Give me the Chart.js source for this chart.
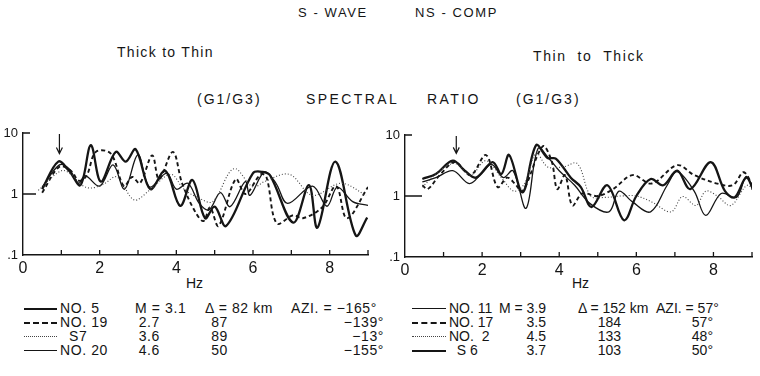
<!DOCTYPE html>
<html>
<head>
<meta charset="utf-8">
<script src="https://cdn.jsdelivr.net/npm/chart.js@4.4.0/dist/chart.umd.min.js"></script>
<style>
    body { margin: 0; background: #fff; width: 760px; height: 376px; overflow: hidden; position: relative;
           font-family: "Liberation Sans", "DejaVu Sans", sans-serif; color: #151515; }
    .t { position: absolute; white-space: pre; line-height: 1; }
    .ln { position: absolute; height: 0; }
    canvas { position: absolute; }
</style>
</head>
<body>
<div class="t" style="left:298px;top:6px;font-size:13px;letter-spacing:1.6px">S - WAVE</div>
<div class="t" style="left:415px;top:6px;font-size:13px;letter-spacing:1.6px">NS - COMP</div>
<div class="t" style="left:117px;top:45px;font-size:14px;letter-spacing:1.3px">Thick to Thin</div>
<div class="t" style="left:533px;top:49px;font-size:14px;letter-spacing:1.6px">Thin  to  Thick</div>
<div class="t" style="left:197px;top:92px;font-size:14px;letter-spacing:2px">(G1/G3)</div>
<div class="t" style="left:306px;top:92px;font-size:14px;letter-spacing:2.4px">SPECTRAL</div>
<div class="t" style="left:427px;top:92px;font-size:14px;letter-spacing:2.4px">RATIO</div>
<div class="t" style="left:516px;top:92px;font-size:14px;letter-spacing:2px">(G1/G3)</div>
<div class="t" style="left:186px;top:276px;font-size:14px">Hz</div>
<div class="t" style="left:572px;top:276px;font-size:14px">Hz</div>

<canvas id="leftChart" width="380" height="180" style="left:0;top:120px"></canvas>
<canvas id="rightChart" width="380" height="180" style="left:380px;top:120px"></canvas>

<script>
document.addEventListener('DOMContentLoaded', function () {
    const INK = '#151515';
    const FONT = 'Liberation Sans';

    // axis
    const yTicks = [0.1, 1, 10];
    const hzMin = 0;
    const hzMax = 9;

    // Thick to Thin  -  [Hz, G1/G3 ratio]
    const no5 = [[0.5,1.2],[0.92,3.4],[1.2,2.4],[1.5,1.4],[1.77,6.3],[2.03,1.6],[2.42,4.9],[2.68,3.4],[2.94,5.4],[3.32,1.2],[3.71,2.4],[4.1,0.64],[4.42,1.7],[4.75,0.4],[5.0,0.62],[5.3,0.3],[6.0,2.2],[6.25,2.3],[6.45,2.0],[7.05,0.34],[7.46,1.4],[7.68,0.28],[8.15,3.4],[8.68,0.21],[8.98,0.41]];
    const no19 = [[0.5,1.05],[0.95,2.8],[1.25,2.4],[1.46,1.65],[1.66,2.0],[1.9,4.9],[2.29,4.6],[2.63,1.35],[2.85,1.9],[3.05,1.5],[3.37,4.3],[3.55,1.75],[3.91,4.9],[4.15,1.5],[4.5,0.5],[4.71,0.36],[4.88,0.6],[5.1,0.3],[5.55,1.75],[5.8,1.0],[6.2,2.1],[6.35,1.9],[6.62,0.33],[7.05,0.45],[7.3,0.4],[7.8,0.6],[8.17,1.35],[8.45,0.4],[9.0,1.3]];
    const s7 = [[0.4,1.15],[1.0,2.4],[1.3,2.0],[1.5,1.45],[1.75,1.25],[2.1,1.45],[2.45,1.9],[2.9,0.8],[3.3,1.15],[3.85,2.1],[4.2,1.2],[4.6,0.85],[4.95,0.75],[5.5,2.6],[6.0,1.3],[6.3,1.6],[6.95,2.1],[7.55,0.95],[8.3,1.5],[8.95,0.95]];
    const no20 = [[0.5,1.3],[0.95,3.0],[1.2,2.6],[1.45,1.5],[1.62,2.0],[2.0,1.35],[2.35,3.0],[2.65,1.2],[3.0,4.4],[3.3,1.3],[3.75,2.2],[4.0,1.2],[4.3,1.5],[4.6,0.7],[4.85,0.55],[5.15,1.05],[5.4,0.62],[5.8,1.6],[5.92,0.95],[6.3,2.3],[6.6,1.5],[6.9,0.7],[7.55,1.35],[7.93,0.63],[8.2,1.3],[8.6,0.75],[9.0,0.65]];

    // Thin to Thick
    const no11 = [[0.45,1.7],[0.8,2.0],[1.24,2.6],[1.67,1.6],[2.0,2.4],[2.25,3.3],[2.55,2.0],[2.8,2.6],[3.14,0.63],[3.45,6.0],[3.75,4.0],[4.0,2.6],[4.4,1.5],[4.8,0.75],[5.29,0.55],[5.55,1.2],[5.9,0.8],[6.37,0.55],[6.8,1.5],[7.06,2.5],[7.5,1.2],[7.8,0.48],[8.2,1.1],[8.6,0.95],[8.85,2.1],[9.05,1.1]];
    const no17 = [[0.45,1.5],[0.59,1.3],[0.9,2.2],[1.3,3.6],[1.7,2.2],[2.1,4.7],[2.4,1.4],[2.65,2.0],[2.85,1.6],[3.05,1.2],[3.57,6.5],[3.8,3.8],[3.95,1.3],[4.15,2.2],[4.34,0.7],[4.6,1.1],[5.0,1.0],[5.4,1.3],[5.9,2.2],[6.4,1.6],[7.06,3.2],[7.5,2.2],[8.1,1.6],[8.5,1.5],[8.79,2.45],[9.1,1.08]];
    const no2 = [[0.45,1.4],[0.9,2.6],[1.3,3.4],[1.7,2.2],[2.1,3.8],[2.5,2.0],[2.83,1.2],[3.1,1.6],[3.4,5.0],[3.7,3.0],[4.1,3.0],[4.47,3.4],[4.82,1.0],[5.2,0.95],[5.6,1.0],[6.0,1.0],[6.4,0.8],[6.9,0.55],[7.2,0.98],[7.55,0.7],[7.8,1.2],[8.1,1.0],[8.45,0.7],[8.88,1.5],[9.1,1.0]];
    const s6 = [[0.45,1.9],[0.8,2.3],[1.24,3.8],[1.55,2.6],[1.84,2.0],[2.27,3.6],[2.5,2.3],[2.7,4.7],[3.05,1.15],[3.4,6.8],[3.7,4.2],[3.91,4.1],[4.3,2.0],[4.56,1.4],[4.84,0.66],[5.25,1.5],[5.68,0.4],[6.0,1.0],[6.37,1.9],[6.7,1.5],[7.06,2.6],[7.4,1.3],[7.93,3.6],[8.3,1.2],[8.55,0.95],[8.85,2.0],[9.05,1.2]];

    // event table
    const leftNames = ['NO. 5', 'NO. 19', '  S7', 'NO. 20'];
    const leftM = ['3.1', '2.7', '3.6', '4.6'];
    const leftDist = ['82', '87', '89', '50'];
    const leftAzi = ['\u2212165\u00b0', '\u2212139\u00b0', '\u221213\u00b0', '\u2212155\u00b0'];
    const rightNames = ['NO. 11', 'NO. 17', 'NO.  2', '  S 6'];
    const rightM = ['3.9', '3.5', '4.5', '3.7'];
    const rightDist = ['152', '184', '133', '103'];
    const rightAzi = ['57\u00b0', '57\u00b0', '48\u00b0', '50\u00b0'];

    // arrows [Hz, from, to]
    const leftArrow = [0.95, 9.6, 4.6];
    const rightArrow = [1.33, 9.6, 5.0];

    const thick = { borderWidth: 2.3, borderDash: [], borderColor: INK };
    const dashed = { borderWidth: 1.9, borderDash: [4, 3], borderColor: INK };
    const dotted = { borderWidth: 1.1, borderDash: [1, 2], borderColor: '#444' };
    const thin = { borderWidth: 1.3, borderDash: [], borderColor: INK };

    function ds(label, pts, style) {
        return Object.assign({
            label: label,
            data: pts.map(p => ({ x: p[0], y: p[1] })),
            pointRadius: 0,
            tension: 0.35,
            fill: false
        }, style);
    }

    // inward ticks and the marker arrow
    const axisTicks = {
        id: 'axisTicks',
        afterDraw(chart, args, opts) {
            const { ctx, chartArea } = chart;
            const x = chart.scales.x, y = chart.scales.y;
            ctx.save();
            ctx.strokeStyle = INK;
            ctx.lineWidth = 1.3;
            ctx.beginPath();
            for (let hz = hzMin + 1; hz <= hzMax; hz++) {
                const px = x.getPixelForValue(hz);
                ctx.moveTo(px, chartArea.bottom);
                ctx.lineTo(px, chartArea.bottom - 5);
            }
            ctx.moveTo(chartArea.left, y.getPixelForValue(10));
            ctx.lineTo(chartArea.left + 7, y.getPixelForValue(10));
            ctx.moveTo(chartArea.left, y.getPixelForValue(1));
            ctx.lineTo(chartArea.left + opts.oneTick, y.getPixelForValue(1));
            ctx.stroke();

            const a = opts.arrow;
            const ax = x.getPixelForValue(a[0]);
            const y1 = y.getPixelForValue(a[1]);
            const y2 = y.getPixelForValue(a[2]);
            ctx.lineWidth = 1.2;
            ctx.beginPath();
            ctx.moveTo(ax, y1);
            ctx.lineTo(ax, y2);
            ctx.moveTo(ax - 3, y2 - 6);
            ctx.lineTo(ax, y2);
            ctx.lineTo(ax + 3, y2 - 6);
            ctx.stroke();
            ctx.restore();
        }
    };

    function makeOptions(padding, xHeight, yWidth, oneTick, arrow) {
        return {
            responsive: false,
            animation: false,
            devicePixelRatio: 1,
            layout: { padding: padding },
            plugins: {
                legend: { display: false },
                tooltip: { enabled: false },
                axisTicks: { oneTick: oneTick, arrow: arrow }
            },
            scales: {
                x: {
                    type: 'linear',
                    min: hzMin,
                    max: hzMax,
                    afterFit: function (s) { s.height = xHeight; },
                    grid: { display: false, drawTicks: false },
                    border: { display: true, color: INK, width: 1.4 },
                    ticks: {
                        stepSize: 1,
                        autoSkip: false,
                        maxRotation: 0,
                        padding: 4,
                        color: INK,
                        font: { family: FONT, size: 16 },
                        callback: function (v) { return v % 2 === 0 ? String(v) : ''; }
                    }
                },
                y: {
                    type: 'logarithmic',
                    min: 0.1,
                    max: 10,
                    afterFit: function (s) { s.width = yWidth; },
                    afterBuildTicks: function (s) { s.ticks = yTicks.map(v => ({ value: v })); },
                    grid: { display: false, drawTicks: false },
                    border: { display: true, color: INK, width: 1.4 },
                    ticks: {
                        padding: 5,
                        color: INK,
                        font: { family: FONT, size: 13 },
                        callback: function (v) { return v === 0.1 ? '.1' : String(v); }
                    }
                }
            }
        };
    }

    const leftCtx = document.getElementById('leftChart').getContext('2d');
    const leftChart = new Chart(leftCtx, {
        type: 'line',
        data: {
            datasets: [
                ds('S7', s7, dotted),
                ds('NO. 20', no20, thin),
                ds('NO. 19', no19, dashed),
                ds('NO. 5', no5, thick)
            ]
        },
        options: makeOptions({ left: 0, top: 13, right: 12, bottom: 0 }, 45, 23, 13, leftArrow),
        plugins: [axisTicks]
    });

    const rightCtx = document.getElementById('rightChart').getContext('2d');
    const rightChart = new Chart(rightCtx, {
        type: 'line',
        data: {
            datasets: [
                ds('NO. 2', no2, dotted),
                ds('NO. 11', no11, thin),
                ds('NO. 17', no17, dashed),
                ds('S 6', s6, thick)
            ]
        },
        options: makeOptions({ left: 0, top: 15, right: 8, bottom: 0 }, 43, 25, 17, rightArrow),
        plugins: [axisTicks]
    });

    // table under each panel
    const rowTops = [301, 315, 329, 343];
    function put(text, left, top, alignRight, spacing) {
        const d = document.createElement('div');
        d.className = 't';
        d.style.fontSize = '14px';
        d.style.letterSpacing = spacing + 'px';
        d.style.top = top + 'px';
        if (alignRight) d.style.right = (760 - left) + 'px';
        else d.style.left = left + 'px';
        d.textContent = text;
        document.body.appendChild(d);
    }
    function table(names, mags, dists, azis, styles, c) {
        for (let i = 0; i < names.length; i++) {
            const top = rowTops[i];
            const ln = document.createElement('div');
            ln.className = 'ln';
            ln.style.left = c.line + 'px';
            ln.style.width = c.lineW + 'px';
            ln.style.top = (top + 7) + 'px';
            ln.style.borderTop = styles[i];
            document.body.appendChild(ln);
            put(names[i], c.name, top, false, c.sp);
            if (i === 0) {
                put('M = ' + mags[i], c.m0, top, false, c.sp);
                put('\u0394 = ' + dists[i] + ' km', c.d0, top, false, c.sp);
                put('AZI. = ' + azis[i], c.a0, top, false, c.sp);
            } else {
                put(mags[i], c.m, top, true, c.sp);
                put(dists[i], c.d, top, true, c.sp);
                put(azis[i], c.a, top, true, c.sp);
            }
        }
    }
    table(leftNames, leftM, leftDist, leftAzi,
        ['2px solid ' + INK, '2px dashed ' + INK, '1px dotted #444', '1.5px solid ' + INK],
        { line: 24, lineW: 33, name: 60, m0: 135, m: 160, d0: 205, d: 228, a0: 291, a: 384, sp: 0.6 });
    table(rightNames, rightM, rightDist, rightAzi,
        ['1.5px solid ' + INK, '2px dashed ' + INK, '1px dotted #444', '2px solid ' + INK],
        { line: 412, lineW: 34, name: 449, m0: 499, m: 546, d0: 578, d: 621, a0: 656, a: 713, sp: 0 });
});
</script>
</body>
</html>
